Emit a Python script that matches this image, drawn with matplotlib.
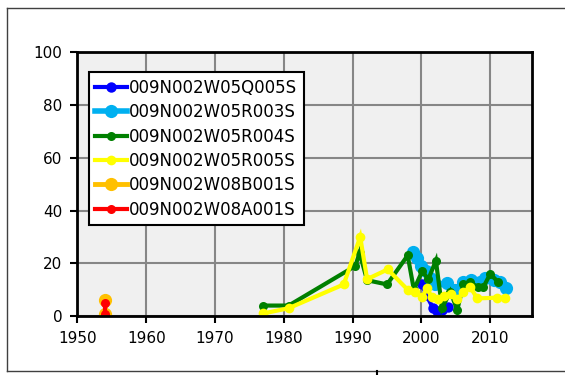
import matplotlib
matplotlib.use("Agg")
import matplotlib.pyplot as plt
from matplotlib.lines import Line2D

plt.rcParams['font.family'] = ['DejaVu Sans']

# Well series (year, value)
q005_years = [2000.1, 2000.7, 2001.7, 2002.3, 2003.0, 2003.8]
q005_vals = [12.0, 8.0, 3.0, 2.0, 2.5, 3.5]

r003_years = [1998.8, 1999.4, 2000.0, 2000.6, 2001.3, 2002.0, 2003.7, 2004.9,
              2006.1, 2007.2, 2008.5, 2009.3, 2010.5, 2011.4, 2012.3]
r003_vals = [24.4, 22.0, 19.0, 17.0, 14.5, 12.0, 12.4, 9.8,
             13.0, 13.5, 12.8, 14.3, 13.5, 13.0, 10.8]

r004_years = [1977.0, 1980.7, 1990.4, 1991.0, 1992.1, 1995.0, 1998.0, 1998.9,
              2000.1, 2001.0, 2002.1, 2003.0, 2004.2, 2005.2, 2006.1, 2007.0,
              2008.2, 2009.0, 2010.0, 2011.1]
r004_vals = [4.0, 4.0, 19.0, 24.0, 13.6, 12.0, 23.0, 10.0,
             17.0, 14.0, 21.0, 3.0, 9.3, 2.3, 12.0, 13.0,
             11.0, 11.0, 16.0, 13.0]

r005_years = [1977.0, 1980.7, 1988.7, 1991.1, 1992.1, 1995.1, 1998.0, 1999.1,
              2000.1, 2000.8, 2001.5, 2002.4, 2003.3, 2004.3, 2005.2, 2006.1,
              2007.1, 2008.1, 2011.0, 2012.1]
r005_vals = [1.0, 3.0, 12.0, 30.0, 14.0, 17.7, 10.0, 9.0,
             7.2, 10.5, 7.2, 6.5, 7.8, 8.5, 6.5, 9.0,
             11.0, 6.7, 7.0, 7.0]

b001_years = [1954.0, 1954.0]
b001_vals = [6.0, 0.8]

a001_years = [1954.0, 1954.0]
a001_vals = [5.0, 0.8]

labels = ["009N002W05Q005S", "009N002W05R003S", "009N002W05R004S",
          "009N002W05R005S", "009N002W08B001S", "009N002W08A001S"]

x_ticks = [1950, 1960, 1970, 1980, 1990, 2000, 2010]
y_ticks = [0, 20, 40, 60, 80, 100]

series = [
    (q005_years, q005_vals, "#0000ff", 3.0, 7.5),
    (r003_years, r003_vals, "#00b0f0", 4.0, 9.5),
    (r004_years, r004_vals, "#008000", 3.0, 6.5),
    (r005_years, r005_vals, "#ffff00", 3.0, 7.0),
    (b001_years, b001_vals, "#ffc000", 3.5, 9.5),
    (a001_years, a001_vals, "#ff0000", 3.0, 6.5),
]

fig = plt.figure(figsize=(5.65, 3.75), dpi=100)
ax = fig.add_axes([0.137, 0.157, 0.805, 0.704])
ax.set_facecolor("#f0f0f0")

for (xs, ys, col, lw, ms), lab in zip(series, labels):
    ax.plot(xs, ys, color=col, lw=lw, marker='o', ms=ms,
            markeredgewidth=0, label=lab, solid_joinstyle='miter')

ax.set_xlim(1950, 2016.1)
ax.set_ylim(0, 100)
ax.set_xticks(x_ticks)
ax.set_yticks(y_ticks)
ax.grid(True, color="#868686", lw=1.5)
ax.set_axisbelow(True)
for sp in ax.spines.values():
    sp.set_linewidth(2.0)
    sp.set_color("black")
ax.tick_params(direction='out', length=5, width=1.5, labelsize=11,
               pad=6, colors='black')

handles = [Line2D([], [], color=c, lw=lw, marker='o', ms=ms, markeredgewidth=0)
           for (_, _, c, lw, ms) in series]
leg = ax.legend(handles, labels, loc='upper left', bbox_to_anchor=(0.025, 0.924),
                borderaxespad=0, fontsize=12, frameon=True, fancybox=False,
                edgecolor='black', framealpha=1, handlelength=1.9,
                handletextpad=0.1, labelspacing=0.38, borderpad=0.4)
leg.get_frame().set_linewidth(1.5)

# outer chart border
H = 375.0
W = 565.0
frame_kw = dict(color="#404040", lw=1.0, transform=fig.transFigure)
fig.add_artist(Line2D([7 / W, 7 / W], [1 - 8 / H, 1 - 370.5 / H], **frame_kw))
fig.add_artist(Line2D([7 / W, 1.0], [1 - 8 / H, 1 - 8 / H], **frame_kw))
fig.add_artist(Line2D([7 / W, 1.0], [1 - 370.5 / H, 1 - 370.5 / H], **frame_kw))
fig.add_artist(Line2D([376.5 / W, 376.5 / W], [1 - 370.5 / H, 0.0],
                      color="black", lw=1.5, transform=fig.transFigure))

fig.savefig("out.png", dpi=100)
